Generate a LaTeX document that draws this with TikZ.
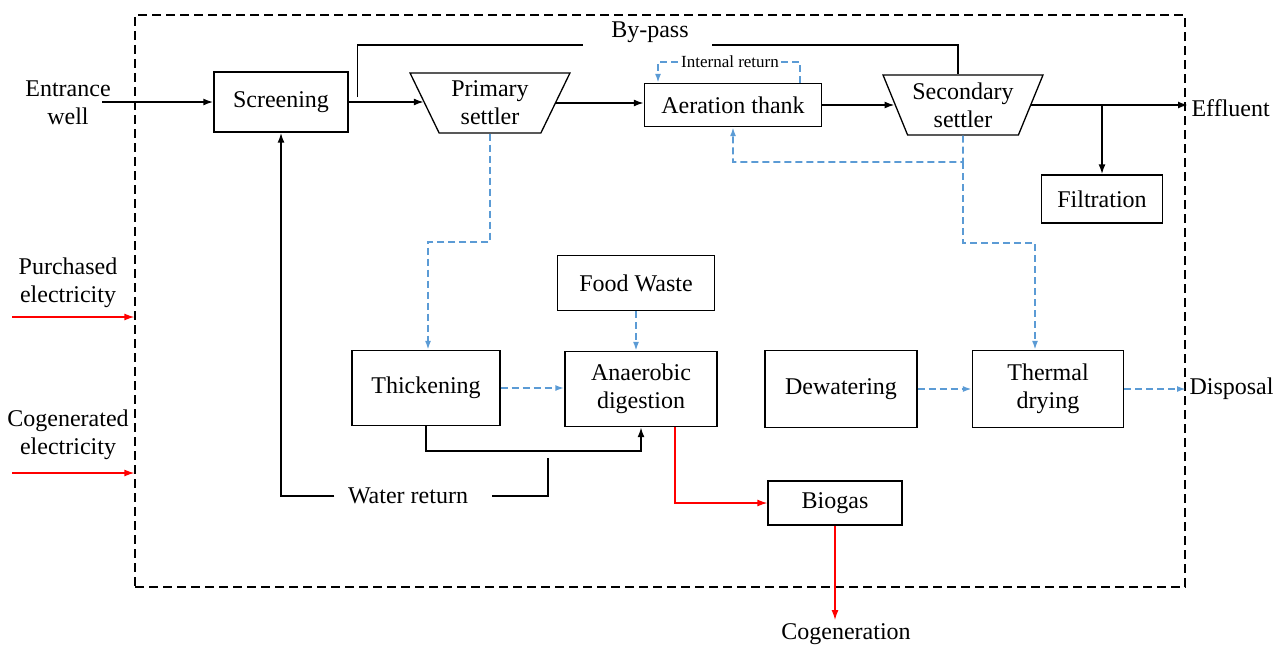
\documentclass[tikz,border=0pt]{standalone}
\usepackage{fontspec}
\setmainfont{Liberation Serif}
\usepackage{pgf,tikz}
\usetikzlibrary{arrows.meta,shapes.geometric}

\definecolor{sludgeblue}{RGB}{91,155,213}

\tikzset{
  unitbox/.style={draw, line width=1.3pt, align=center, inner sep=0pt},
  settler/.style={draw, line width=1.3pt, trapezium, shape border rotate=180,
    trapezium angle=63.4, trapezium stretches=true, minimum width=160pt,
    minimum height=60pt, align=center, inner sep=0pt},
  flow/.style={line width=1.8pt, -{Latex[length=10pt,width=7pt]}},
  sludge/.style={line width=1.8pt, draw=sludgeblue, dash pattern=on 7pt off 4pt,
    -{Latex[length=9pt,width=6pt]}},
  power/.style={line width=1.3pt, draw=red, -{Latex[length=10pt,width=7pt]}}
}

\begin{document}
\begin{tikzpicture}[x=1pt, y=-1pt, font=\fontsize{24}{28}\selectfont]
\useasboundingbox (0,0) rectangle (1284,645);
% plant boundary
\node[draw, line width=1.3pt, dash pattern=on 9pt off 5pt, minimum width=1050pt,
  minimum height=572pt] (plant) at (660,301) {};

% water line
\node[unitbox, minimum width=134pt, minimum height=60pt] (scr) at (281,102) {Screening};
\node[settler] (ps) at (490,103) {Primary\\settler};
\node[unitbox, minimum width=177pt, minimum height=43pt] (aer) at (733,105) {Aeration thank};
\node[settler] (ss) at (963,105) {Secondary\\settler};
\node[unitbox, minimum width=121pt, minimum height=48pt] (fil) at (1102,199) {Filtration};

% sludge line
\node[unitbox, minimum width=157pt, minimum height=55pt] (fw) at (636,283) {Food Waste};
\node[unitbox, minimum width=148pt, minimum height=75pt] (thk) at (426,388) {Thickening};
\node[unitbox, minimum width=152pt, minimum height=75pt] (ad) at (641,389) {Anaerobic\\digestion};
\node[unitbox, minimum width=152pt, minimum height=77pt] (dw) at (841,389) {Dewatering};
\node[unitbox, minimum width=151pt, minimum height=77pt] (td) at (1048,389) {Thermal\\drying};
\node[unitbox, minimum width=134pt, minimum height=44pt] (bg) at (835,503) {Biogas};

% inputs and outputs
\node[align=center] (inw) at (68,103) {Entrance\\well};
\node[align=center] (pe) at (68,283) {Purchased\\electricity};
\node[align=center] (ce) at (68,435) {Cogenerated\\electricity};
\node[anchor=west] (eff) at (1188,108) {Effluent};
\node[anchor=west] (disp) at (1186,389) {Disposal};
\node[anchor=north] (cog) at (846,620) {Cogeneration};

% water flow
\draw[flow] (inw.east |- scr.west) ++(-12,0) -- (scr.west);
\draw[flow] (scr.east) -- (scr.east -| ps.west);
\draw[flow] (ps.east) -- (ps.east -| aer.west);
\draw[flow] (aer.east) -- (aer.east -| ss.west);
\draw[flow] (ss.east) -- (ss.east -| eff.west);
\draw[flow] (fil.north |- ss.east) -- (fil.north);

% by-pass
\node (byp) at (650,32) {By-pass};
\coordinate (bpl) at (583,45);
\coordinate (bpr) at (712,45);
\draw[line width=1.5pt] ([xshift=9pt,yshift=5pt]scr.east) |- (bpl);
\draw[line width=1.5pt] (bpr) -| ([xshift=-5pt]ss.north);

% internal return
\draw[sludge] ([xshift=67pt]aer.north) |- (658,62) -- ([xshift=-75pt]aer.north);
\node[fill=white, inner xsep=2pt, font=\fontsize{17}{20}\selectfont] (ir) at (730,62) {Internal return};

% sludge flow
\coordinate (rs) at (963,162);
\coordinate (jt) at (1035,243);
\coordinate (jp) at (428,242);
\draw[sludge] (ss.south) -- (rs) -| (aer.south);
\draw[sludge] (rs) |- (jt) -- (jt |- td.north);
\draw[sludge] (ps.south) |- (jp) -- (jp |- thk.north);
\draw[sludge] (fw.south) -- (fw.south |- ad.north);
\draw[sludge] (thk.east) -- (thk.east -| ad.west);
\draw[sludge] (dw.east) -- (td.west);
\draw[sludge] (td.east) -- (disp.west);
\draw[flow] (thk.south) -- ++(0,25) -| (ad.south);

% water return
\node (wr) at (408,496) {Water return};
\coordinate (wrs) at (548,458);
\draw[line width=1.8pt] (wrs) |- ([xshift=20pt]wr.east);
\draw[flow] ([xshift=-10pt]wr.west) -| (scr.south);

% energy
\draw[power] ([xshift=34pt]ad.south) |- (bg.west);
\draw[power] (bg.south) -- (bg.south |- cog.north);
\coordinate (pe0) at (12,317);
\coordinate (ce0) at (12,473);
\draw[power] (pe0) -- (pe0 -| plant.west);
\draw[power] (ce0) -- (ce0 -| plant.west);
\end{tikzpicture}
\end{document}
